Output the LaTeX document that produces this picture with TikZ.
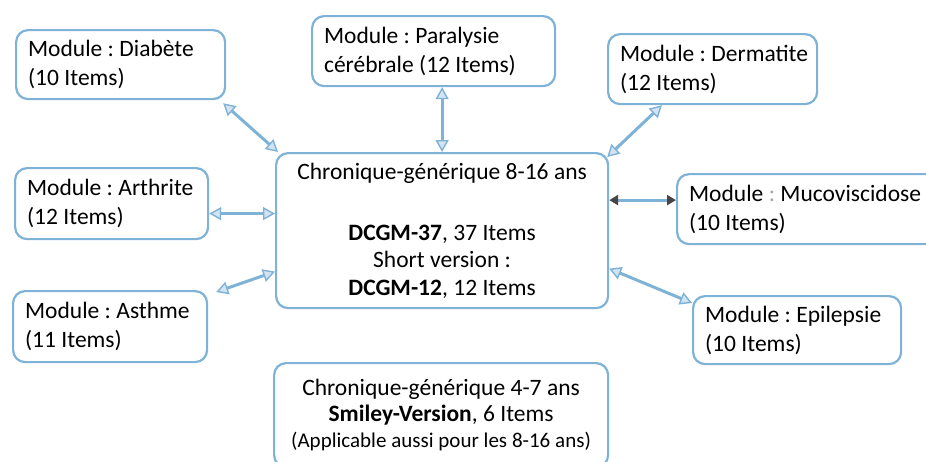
\documentclass[tikz,border=0pt]{standalone}
\usepackage{fontspec}
\setmainfont{Carlito}
\usetikzlibrary{arrows.meta,calc}
\definecolor{boxblue}{RGB}{126,178,214}
\definecolor{tipgray}{RGB}{70,70,70}
\newcommand\fsm{\fontsize{23.5}{29}\selectfont}
\newcommand\fsc{\fontsize{23.5}{27.5}\selectfont}
\newcommand\fsb{\fontsize{23.5}{26}\selectfont}
\newcommand\fss{\fontsize{21}{27}\selectfont\spaceskip=0.23em\relax}
\newcommand\tline[1]{\mbox{\spaceskip=0.23em\relax\xspaceskip=0.23em\relax #1}}
\tikzset{
  modbox/.style={draw=boxblue, line width=2.2pt, rounded corners=12pt, fill=white,
    align=left, anchor=north west, inner xsep=12pt, inner ysep=2pt, font=\fsm},
  cenbox/.style={modbox, align=center, font=\fsc},
  link/.style={draw=boxblue, line width=3pt,
    >={Triangle[length=12pt,width=13pt,line width=1.4pt,fill=boxblue!35]}, <->},
  darklink/.style={draw=boxblue, line width=3pt,
    >={Triangle[length=9pt,width=10pt,color=tipgray]}, <->}
}
\begin{document}
\begin{tikzpicture}[x=1pt,y=-1pt]
\useasboundingbox (0,0) rectangle (926,461);
\node[modbox, text width=185, minimum height=69] (dia) at (15,29) {\tline{Module : Diabète}\\\tline{(10 Items)}};
\node[modbox, text width=219, minimum height=70] (par) at (311,15) {\tline{Module : Paralysie}\\\tline{cérébrale (12 Items)}};
\node[modbox, text width=185, minimum height=70] (der) at (607,33) {\tline{Module : Dermatite}\\\tline{(12 Items)}};
\node[modbox, text width=169, minimum height=71] (art) at (14,167) {\tline{Module : Arthrite}\\\tline{(12 Items)}};
\node[modbox, text width=170, minimum height=71] (ast) at (12,290) {\tline{Module : Asthme}\\\tline{(11 Items)}};
\node[cenbox, text width=308, minimum height=155] (cen) at (275,152)
  {\tline{Chronique-générique 8-16 ans}\\[33pt]\tline{\textbf{DCGM-37}, 37 Items}\\\tline{Short version :}\\\tline{\textbf{DCGM-12}, 12 Items}};
\node[modbox, text width=250, minimum height=70] (muc) at (676,173) {\tline{Module {\color{black!35}:} Mucoviscidose}\\\tline{(10 Items)}};
\node[modbox, text width=184, minimum height=68] (epi) at (692,295) {\tline{Module : Epilepsie}\\\tline{(10 Items)}};
\node[cenbox, text width=310, minimum height=104, font=\fsb] (bot) at (273,362)
  {\tline{Chronique-générique 4-7 ans}\\\tline{\textbf{Smiley-Version}, 6 Items}\\\tline{\fss(Applicable aussi pour les 8-16 ans)}};
% connectors
\draw[link] ([xshift=-3pt,yshift=-3pt]dia.south east) -- ([xshift=3pt]cen.north west);
\draw[link] (par.south -| cen.north) -- (cen.north);
\draw[link] ($(der.south west)!0.52!(der.south)$) -- ([xshift=-2pt,yshift=-5pt]cen.north east);
\coordinate (a1) at ([yshift=-10pt]art.east);
\draw[link] (a1) -- (a1 -| cen.west);
\draw[link] ([xshift=8pt,yshift=-2pt]ast.north east) -- ([yshift=-41pt]cen.west);
\coordinate (m1) at ([yshift=9pt]muc.west);
\draw[darklink] (m1 -| cen.east) -- (m1);
\draw[link] ([yshift=-38pt]cen.east) -- ([yshift=-8pt]epi.north west);
\end{tikzpicture}
\end{document}
